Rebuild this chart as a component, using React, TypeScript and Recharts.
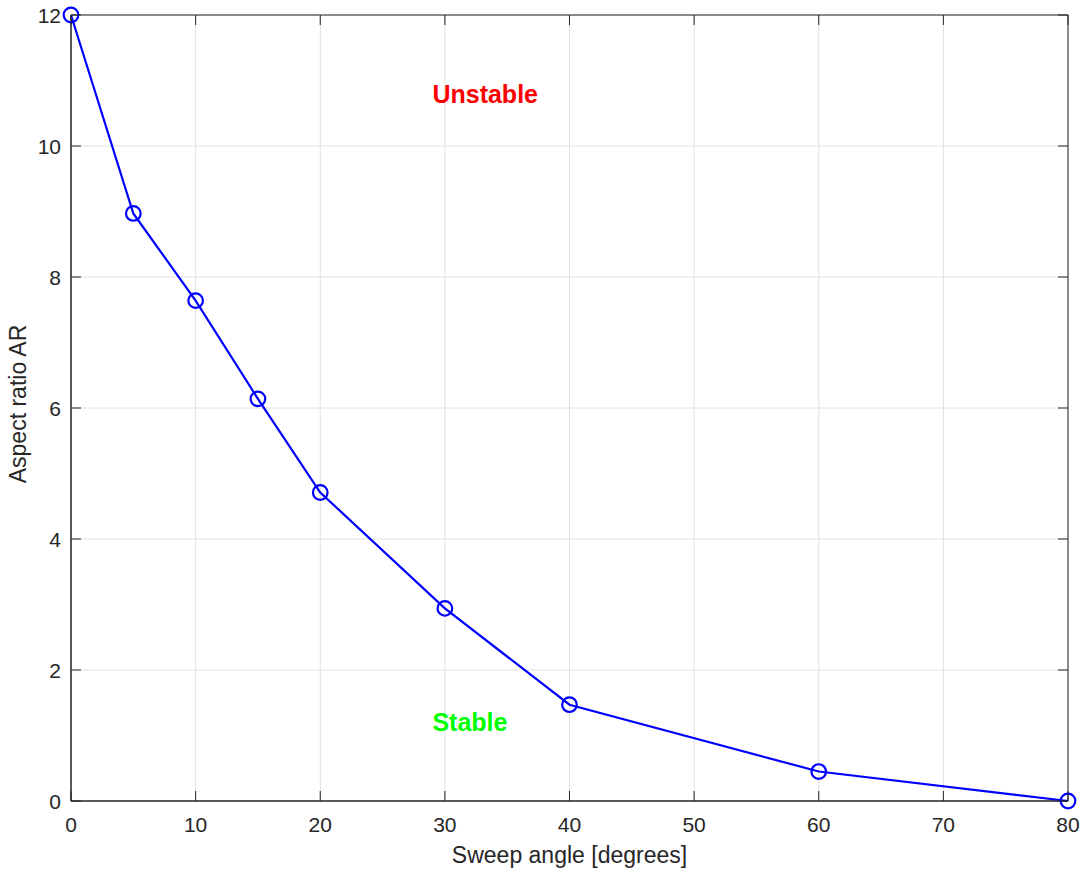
import {
  CartesianGrid,
  Line,
  LineChart,
  ReferenceArea,
  ReferenceDot,
  XAxis,
  YAxis,
} from "recharts";

const sweepAngles = [0, 5, 10, 15, 20, 30, 40, 60, 80];
const aspectRatios = [12, 8.97, 7.64, 6.14, 4.71, 2.94, 1.47, 0.45, 0];
const xTicks = [0, 10, 20, 30, 40, 50, 60, 70, 80];
const yTicks = [0, 2, 4, 6, 8, 10, 12];

const data = sweepAngles.map((angle, i) => ({ angle, ar: aspectRatios[i] }));

const W = 1084;
const H = 870;
const PLOT_TOP = 15;
const PLOT_LEFT = 71;
const PLOT_RIGHT = 1068;
const PLOT_BOTTOM = 801;
const AXIS_COLOR = "#262626";
const FONT = "'Liberation Sans', Arial, sans-serif";

const XTick = (props: any) => {
  const { x, payload } = props;
  return (
    <g>
      <line x1={x} y1={PLOT_BOTTOM} x2={x} y2={PLOT_BOTTOM - 10} stroke={AXIS_COLOR} />
      <line x1={x} y1={PLOT_TOP} x2={x} y2={PLOT_TOP + 10} stroke={AXIS_COLOR} />
      <text x={x} y={832} textAnchor="middle" fontSize={21} fill={AXIS_COLOR} fontFamily={FONT}>
        {payload.value}
      </text>
    </g>
  );
};

const YTick = (props: any) => {
  const { y, payload } = props;
  return (
    <g>
      <line x1={PLOT_LEFT} y1={y} x2={PLOT_LEFT + 10} y2={y} stroke={AXIS_COLOR} />
      <line x1={PLOT_RIGHT} y1={y} x2={PLOT_RIGHT - 10} y2={y} stroke={AXIS_COLOR} />
      <text x={61} y={y + 7.5} textAnchor="end" fontSize={21} fill={AXIS_COLOR} fontFamily={FONT}>
        {payload.value}
      </text>
    </g>
  );
};

const regionText = (label: string, color: string) => (p: any) => (
  <text
    x={p.cx}
    y={p.cy}
    dominantBaseline="central"
    fontSize={25}
    fontWeight="bold"
    fill={color}
    fontFamily={FONT}
  >
    {label}
  </text>
);

export default function App() {
  return (
    <div style={{ position: "absolute", left: 0, top: 0, background: "#fff" }}>
      <LineChart
        width={W}
        height={H}
        data={data}
        margin={{ top: PLOT_TOP, right: W - PLOT_RIGHT, bottom: 0, left: 0 }}
      >
        <CartesianGrid stroke="#e0e0e0" strokeWidth={1} />
        <XAxis
          dataKey="angle"
          type="number"
          domain={[0, 80]}
          ticks={xTicks}
          height={H - PLOT_BOTTOM}
          stroke={AXIS_COLOR}
          tickLine={false}
          tick={<XTick />}
          label={{
            content: () => (
              <text x={(PLOT_LEFT + PLOT_RIGHT) / 2} y={863} textAnchor="middle" fontSize={23} fill={AXIS_COLOR} fontFamily={FONT}>
                Sweep angle [degrees]
              </text>
            ),
          }}
        />
        <YAxis
          type="number"
          domain={[0, 12]}
          ticks={yTicks}
          width={PLOT_LEFT}
          stroke={AXIS_COLOR}
          tickLine={false}
          tick={<YTick />}
          label={{
            content: () => (
              <text
                transform="translate(26,404) rotate(-90)"
                textAnchor="middle"
                fontSize={23}
                fill={AXIS_COLOR}
                fontFamily={FONT}
              >
                Aspect ratio AR
              </text>
            ),
          }}
        />
        <ReferenceArea x1={0} x2={80} y1={0} y2={12} fill="none" stroke={AXIS_COLOR} strokeWidth={1} />
        <ReferenceDot x={29} y={10.8} r={0} shape={regionText("Unstable", "#ff0000")} />
        <ReferenceDot x={29} y={1.2} r={0} shape={regionText("Stable", "#00ff00")} />
        <Line
          dataKey="ar"
          type="linear"
          stroke="#0000ff"
          strokeWidth={2.2}
          dot={{ r: 7.3, stroke: "#0000ff", strokeWidth: 2.2, fill: "none" }}
          isAnimationActive={false}
        />
      </LineChart>
    </div>
  );
}
